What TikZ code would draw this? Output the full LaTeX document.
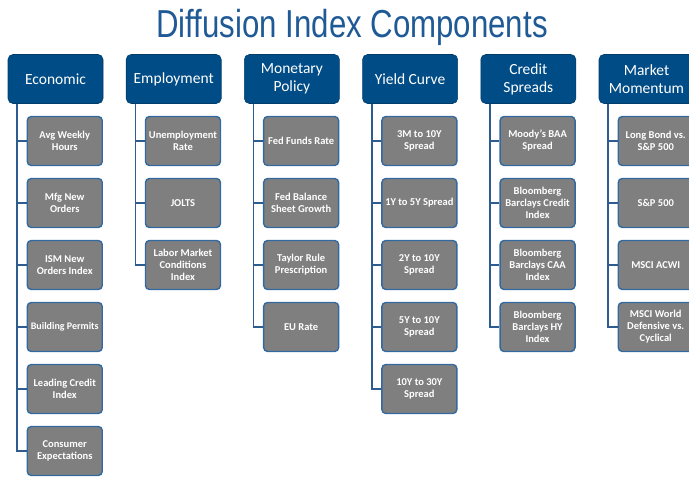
\documentclass[tikz,border=0pt]{standalone}
\usepackage{fontspec}
\setmainfont{Carlito}
\newfontfamily\titlefont[FakeStretch=0.8]{Liberation Sans}
\definecolor{hdr}{RGB}{0,76,134}
\definecolor{ttl}{RGB}{31,90,150}
\definecolor{gbox}{RGB}{127,127,127}
\definecolor{gedge}{RGB}{50,105,160}
\definecolor{lne}{RGB}{45,92,145}
\begin{document}
\begin{tikzpicture}[x=1pt,y=-1pt,
  hdrbox/.style={rectangle, rounded corners=5pt, fill=hdr, draw=hdr!80!black, line width=0.6pt,
    minimum width=95pt, minimum height=49pt, inner sep=0pt, text=white, align=center,
    font=\fontsize{15.5}{18}\selectfont},
  subbox/.style={rectangle, rounded corners=4pt, fill=gbox, draw=gedge, line width=1.4pt,
    minimum width=75pt, minimum height=49pt, inner sep=0.5pt, text=white, align=center,
    font=\bfseries\fontsize{10.5}{12}\selectfont},
  conn/.style={draw=lne, line width=1.5pt}]
\useasboundingbox (0,0) rectangle (689,478);
\fill[white] (0,0) rectangle (689,478);
\node[anchor=base, text=ttl, font=\titlefont\fontsize{39}{42}\selectfont, inner sep=0pt] (title) at (352,38) {Diffusion Index Components};

% headers
\node[hdrbox] (h1) at (55.5,79) {Economic};
\node[hdrbox] (h2) at (173.7,79) {Employment};
\node[hdrbox] (h3) at (291.9,79) {Monetary\\Policy};
\node[hdrbox] (h4) at (410.1,79) {Yield Curve};
\node[hdrbox] (h5) at (528.3,79) {Credit\\Spreads};
\node[hdrbox] (h6) at (646.5,79) {Market\\Momentum};

% Economic
\node[subbox] (a1) at (64.75,141) {Avg Weekly\\Hours};
\node[subbox] (a2) at (64.75,203) {Mfg New\\Orders};
\node[subbox] (a3) at (64.75,265) {ISM New\\Orders Index};
\node[subbox, font=\bfseries\fontsize{10}{12}\selectfont] (a4) at (64.75,327) {Building Permits};
\node[subbox] (a5) at (64.75,389) {Leading Credit\\Index};
\node[subbox] (a6) at (64.75,451) {Consumer\\Expectations};

% Employment
\node[subbox] (b1) at (182.95,141) {Unemployment\\Rate};
\node[subbox] (b2) at (182.95,203) {JOLTS};
\node[subbox] (b3) at (182.95,265) {Labor Market\\Conditions\\Index};

% Monetary Policy
\node[subbox] (c1) at (301.15,141) {Fed Funds Rate};
\node[subbox] (c2) at (301.15,203) {Fed Balance\\Sheet Growth};
\node[subbox] (c3) at (301.15,265) {Taylor Rule\\Prescription};
\node[subbox] (c4) at (301.15,327) {EU Rate};

% Yield Curve
\node[subbox] (d1) at (419.35,141) {3M to 10Y\\Spread};
\node[subbox] (d2) at (419.35,203) {1Y to 5Y Spread};
\node[subbox] (d3) at (419.35,265) {2Y to 10Y\\Spread};
\node[subbox] (d4) at (419.35,327) {5Y to 10Y\\Spread};
\node[subbox] (d5) at (419.35,389) {10Y to 30Y\\Spread};

% Credit Spreads
\node[subbox] (e1) at (537.55,141) {Moody’s BAA\\Spread};
\node[subbox] (e2) at (537.55,203) {Bloomberg\\Barclays Credit\\Index};
\node[subbox] (e3) at (537.55,265) {Bloomberg\\Barclays CAA\\Index};
\node[subbox] (e4) at (537.55,327) {Bloomberg\\Barclays HY\\Index};

% Market Momentum
\node[subbox] (f1) at (655.75,141) {Long Bond vs.\\S\&P 500};
\node[subbox] (f2) at (655.75,203) {S\&P 500};
\node[subbox] (f3) at (655.75,265) {MSCI ACWI};
\node[subbox] (f4) at (655.75,327) {MSCI World\\Defensive vs.\\Cyclical};

% connectors
\draw[conn] ([xshift=9.5pt]h1.south west) |- (a6.west);
\foreach \n in {a1,a2,a3,a4,a5} \draw[conn] ([xshift=9.5pt]h1.south west |- \n.west) -- (\n.west);
\draw[conn] ([xshift=9.5pt]h2.south west) |- (b3.west);
\foreach \n in {b1,b2} \draw[conn] ([xshift=9.5pt]h2.south west |- \n.west) -- (\n.west);
\draw[conn] ([xshift=9.5pt]h3.south west) |- (c4.west);
\foreach \n in {c1,c2,c3} \draw[conn] ([xshift=9.5pt]h3.south west |- \n.west) -- (\n.west);
\draw[conn] ([xshift=9.5pt]h4.south west) |- (d5.west);
\foreach \n in {d1,d2,d3,d4} \draw[conn] ([xshift=9.5pt]h4.south west |- \n.west) -- (\n.west);
\draw[conn] ([xshift=9.5pt]h5.south west) |- (e4.west);
\foreach \n in {e1,e2,e3} \draw[conn] ([xshift=9.5pt]h5.south west |- \n.west) -- (\n.west);
\draw[conn] ([xshift=9.5pt]h6.south west) |- (f4.west);
\foreach \n in {f1,f2,f3} \draw[conn] ([xshift=9.5pt]h6.south west |- \n.west) -- (\n.west);
\end{tikzpicture}
\end{document}
